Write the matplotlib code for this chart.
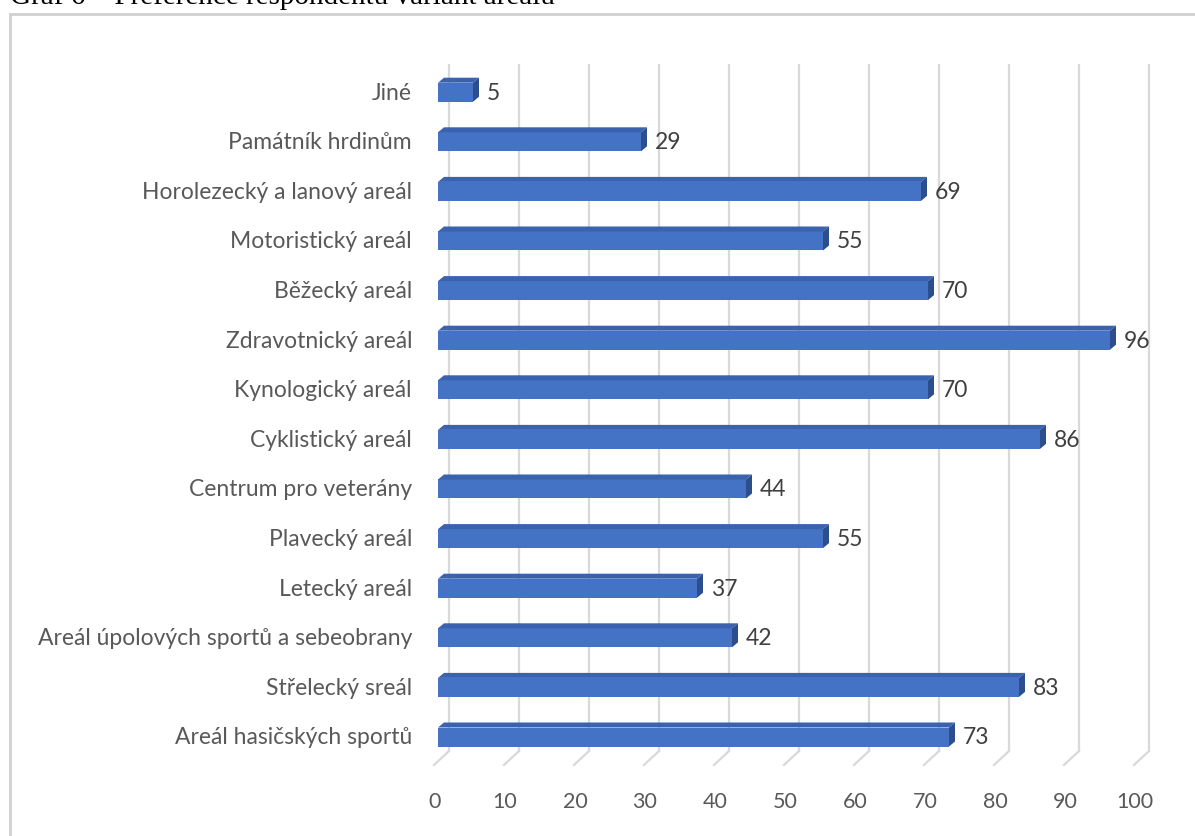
import matplotlib
matplotlib.use("Agg")
import matplotlib.pyplot as plt
from matplotlib.patches import Polygon, Rectangle
from matplotlib.lines import Line2D

categories = ["Areál hasičských sportů", "Střelecký sreál", "Areál úpolových sportů a sebeobrany",
              "Letecký areál", "Plavecký areál", "Centrum pro veterány", "Cyklistický areál",
              "Kynologický areál", "Zdravotnický areál", "Běžecký areál", "Motoristický areál",
              "Horolezecký a lanový areál", "Památník hrdinům", "Jiné"]
values = [73, 83, 42, 37, 55, 44, 86, 70, 96, 70, 55, 69, 29, 5]
xticks = [0, 10, 20, 30, 40, 50, 60, 70, 80, 90, 100]
title = "Graf 6 – Preference respondentů variant areálu"

W, H = 1195, 836
fig = plt.figure(figsize=(W / 100, H / 100), dpi=100)
fig.patch.set_facecolor("white")

# pixel geometry
x0_px, px_per_x = 438.0, 7.0
y0_px, px_per_y = 737.0, 49.6
ax_left, ax_right = 400.0, 1185.0
ax_top, ax_bot = 50.0, 810.0
ax = fig.add_axes([ax_left / W, 1 - ax_bot / H, (ax_right - ax_left) / W, (ax_bot - ax_top) / H])
ax.set_xlim((ax_left - x0_px) / px_per_x, (ax_right - x0_px) / px_per_x)
ax.set_ylim((y0_px - ax_bot) / px_per_y, (y0_px - ax_top) / px_per_y)
ax.axis("off")

def dx(p):
    return p / px_per_x

def dy(p):
    return p / px_per_y

font = "Lato"
grey = "#595959"
front = "#4472C4"
topc = "#3A62AE"
sidec = "#2C4E8C"
gridc = "#D9D9D9"

# back gridlines with 3D floor diagonals
gtop = dy(y0_px - 65)
gbot = dy(y0_px - 751)
gfront = dy(y0_px - 765)
for v in xticks:
    xb = v + dx(11)
    xf = v - dx(4)
    ax.add_line(Line2D([xb, xb], [gbot, gtop], color=gridc, lw=1.6, zorder=1))
    ax.add_line(Line2D([xf, xb], [gfront, gbot], color=gridc, lw=1.6, zorder=1))
    ax.text(v - dx(3), dy(y0_px - 802), str(v), ha="center", va="center",
            fontsize=15.5, color=grey, family=font)

# 3D bars
bh = dy(19)
ox, oy = dx(6), dy(5)
for i, (c, v) in enumerate(zip(categories, values)):
    yb = i - bh / 2
    yt = i + bh / 2
    ax.add_patch(Rectangle((0, yb), v, bh, facecolor=front, edgecolor="none", zorder=3))
    ax.add_patch(Polygon([(0, yt), (ox, yt + oy), (v + ox, yt + oy), (v, yt)],
                         closed=True, facecolor=topc, edgecolor="none", zorder=3))
    ax.add_patch(Polygon([(v, yb), (v, yt), (v + ox, yt + oy), (v + ox, yb + oy)],
                         closed=True, facecolor=sidec, edgecolor="none", zorder=3))
    ax.text(v + dx(14), i - dy(1), str(v), ha="left", va="center",
            fontsize=16.5, color="#404040", family=font, zorder=4)
    ax.text(-dx(26), i - dy(1), c, ha="right", va="center",
            fontsize=16.5, color=grey, family=font, zorder=4)

# chart area border
fig.add_artist(Rectangle((10 / W, -0.01), 1.02 - 10 / W, 1 - 14 / H + 0.01,
                         transform=fig.transFigure, facecolor="none",
                         edgecolor="#D0D0D0", lw=2.0))

# cut-off caption (partly outside the image, as in the reference)
fig.text(10 / W, 1 - 4 / H, title, ha="left", va="baseline", fontsize=21,
         family="Liberation Serif", color="black")

fig.savefig("out.png", dpi=100)
